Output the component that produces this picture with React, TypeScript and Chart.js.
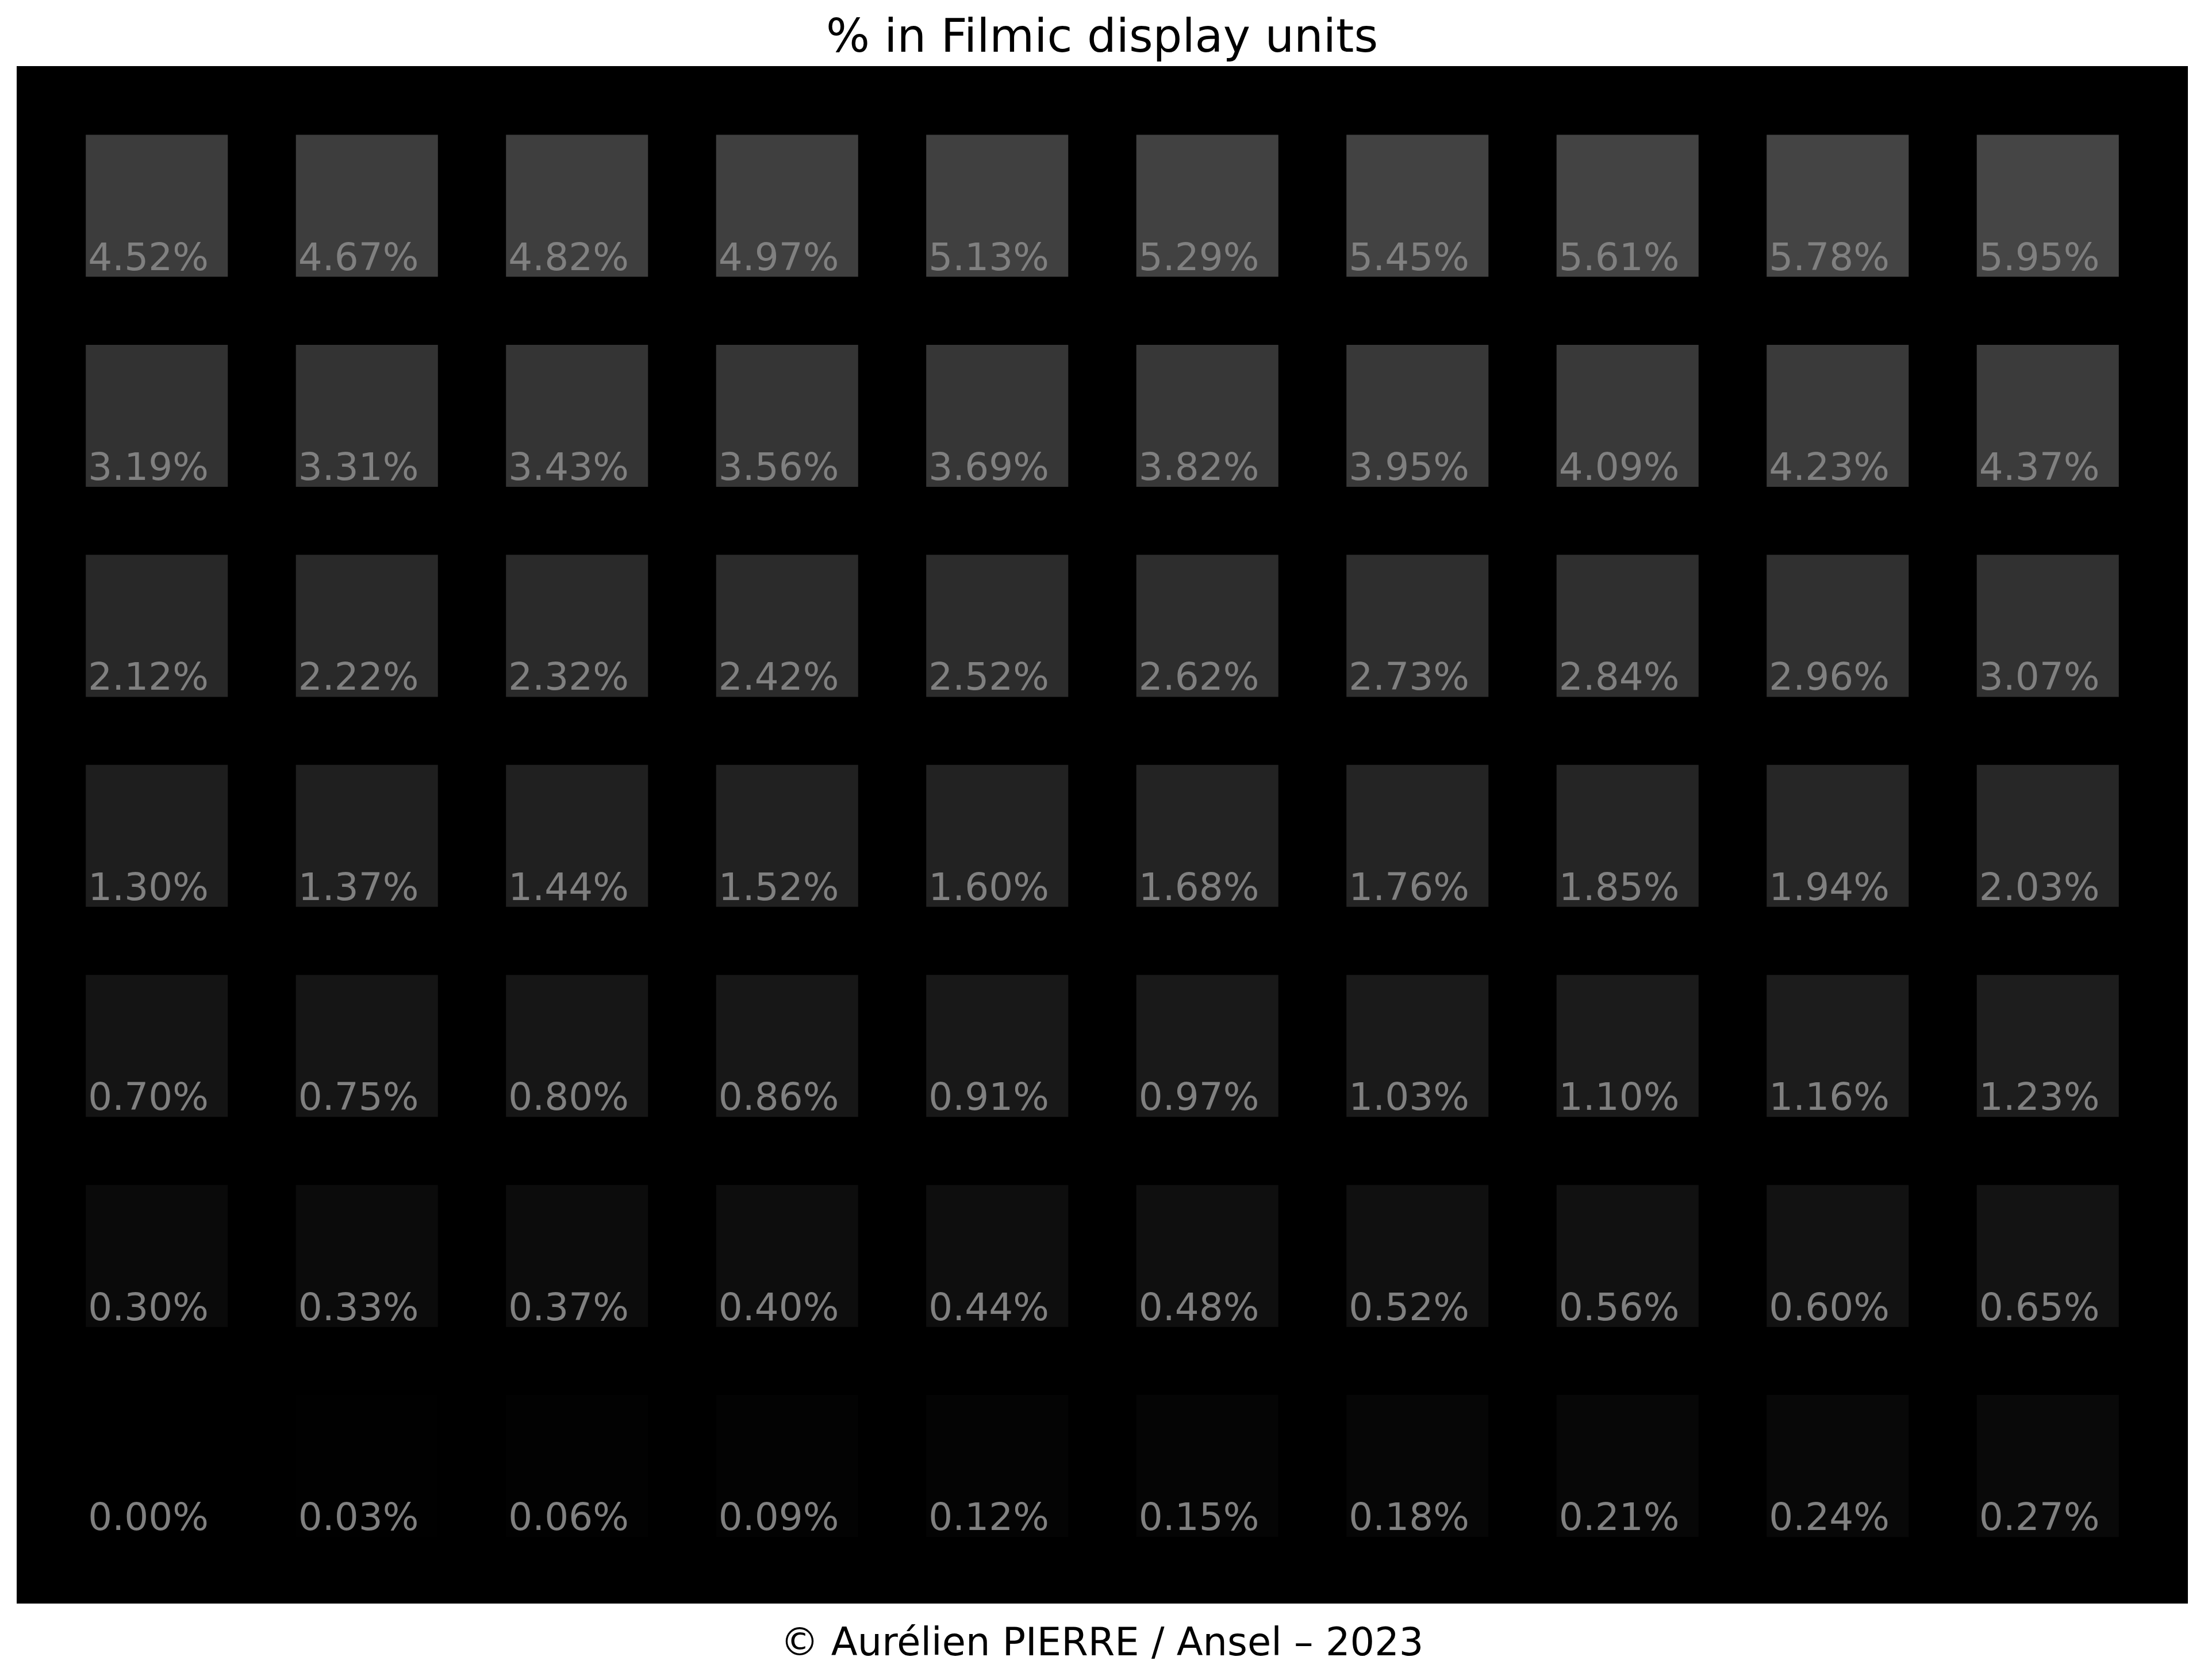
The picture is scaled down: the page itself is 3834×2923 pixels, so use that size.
import React, { useEffect, useRef } from "react";
import { Chart, registerables } from "chart.js";
Chart.register(...registerables);

const columns = ["0", "1", "2", "3", "4", "5", "6", "7", "8", "9"];
const rowIndex = [6, 5, 4, 3, 2, 1, 0];
const row6 = [4.52, 4.67, 4.82, 4.97, 5.13, 5.29, 5.45, 5.61, 5.78, 5.95];
const row5 = [3.19, 3.31, 3.43, 3.56, 3.69, 3.82, 3.95, 4.09, 4.23, 4.37];
const row4 = [2.12, 2.22, 2.32, 2.42, 2.52, 2.62, 2.73, 2.84, 2.96, 3.07];
const row3 = [1.3, 1.37, 1.44, 1.52, 1.6, 1.68, 1.76, 1.85, 1.94, 2.03];
const row2 = [0.7, 0.75, 0.8, 0.86, 0.91, 0.97, 1.03, 1.1, 1.16, 1.23];
const row1 = [0.3, 0.33, 0.37, 0.4, 0.44, 0.48, 0.52, 0.56, 0.6, 0.65];
const row0 = [0.0, 0.03, 0.06, 0.09, 0.12, 0.15, 0.18, 0.21, 0.24, 0.27];
const rows = [row6, row5, row4, row3, row2, row1, row0];
const title = "% in Filmic display units";
const footer = "© Aurélien PIERRE / Ansel – 2023";

function srgb(p: number) {
  const v = p / 100;
  const e = v <= 0.0031308 ? 12.92 * v : 1.055 * Math.pow(v, 1 / 2.4) - 0.055;
  const c = Math.round(Math.max(0, Math.min(1, e)) * 255);
  return `rgb(${c},${c},${c})`;
}

const HALF = 0.338;

export default function App() {
  const ref = useRef<HTMLCanvasElement>(null);
  useEffect(() => {
    document.body.style.margin = "0";
    const bg = {
      id: "bg",
      beforeDatasetsDraw(chart: any) {
        const { ctx, chartArea: a } = chart;
        ctx.save();
        ctx.fillStyle = "#000";
        ctx.fillRect(a.left - 61, a.top, a.right - a.left + 122, a.bottom - a.top);
        ctx.restore();
      },
      afterDraw(chart: any) {
        const { ctx, scales } = chart;
        ctx.save();
        ctx.fillStyle = "#000";
        ctx.textAlign = "center";
        ctx.textBaseline = "alphabetic";
        ctx.font = "80px 'DejaVu Sans'";
        ctx.fillText(title, 1917, 90);
        ctx.font = "67px 'DejaVu Sans'";
        ctx.fillText(footer, 1917, 2880);
        ctx.textAlign = "left";
        ctx.font = "66px 'DejaVu Sans'";
        ctx.fillStyle = "#808080";
        const step = scales.x.getPixelForValue(1) - scales.x.getPixelForValue(0);
        rows.forEach((vals, ri) => {
          const r = rowIndex[ri];
          const yb = scales.y.getPixelForValue(r - HALF);
          vals.forEach((v, ci) => {
            const xl = scales.x.getPixelForValue(ci) - HALF * step;
            ctx.fillText(v.toFixed(2) + "%", xl + 4, yb - 12);
          });
        });
        ctx.restore();
      },
    };
    const chart = new Chart(ref.current!, {
      type: "bar",
      data: {
        labels: columns,
        datasets: rows.map((vals, ri) => ({
          data: vals.map(() => [rowIndex[ri] - HALF, rowIndex[ri] + HALF]),
          backgroundColor: vals.map(srgb),
          grouped: false,
          barPercentage: 0.676,
          categoryPercentage: 1,
          borderWidth: 0,
        })) as any,
      },
      options: {
        animation: false,
        responsive: false,
        devicePixelRatio: 1,
        layout: { padding: { left: 90, right: 89, top: 115, bottom: 133 } },
        plugins: { legend: { display: false }, tooltip: { enabled: false } },
        scales: {
          x: { type: "category", offset: true, display: false },
          y: { type: "linear", min: -0.655, max: 6.665, display: false },
        },
      },
      plugins: [bg],
    });
    return () => chart.destroy();
  }, []);
  return <canvas ref={ref} width={3834} height={2923} style={{ width: 3834, height: 2923, display: "block" }} />;
}
